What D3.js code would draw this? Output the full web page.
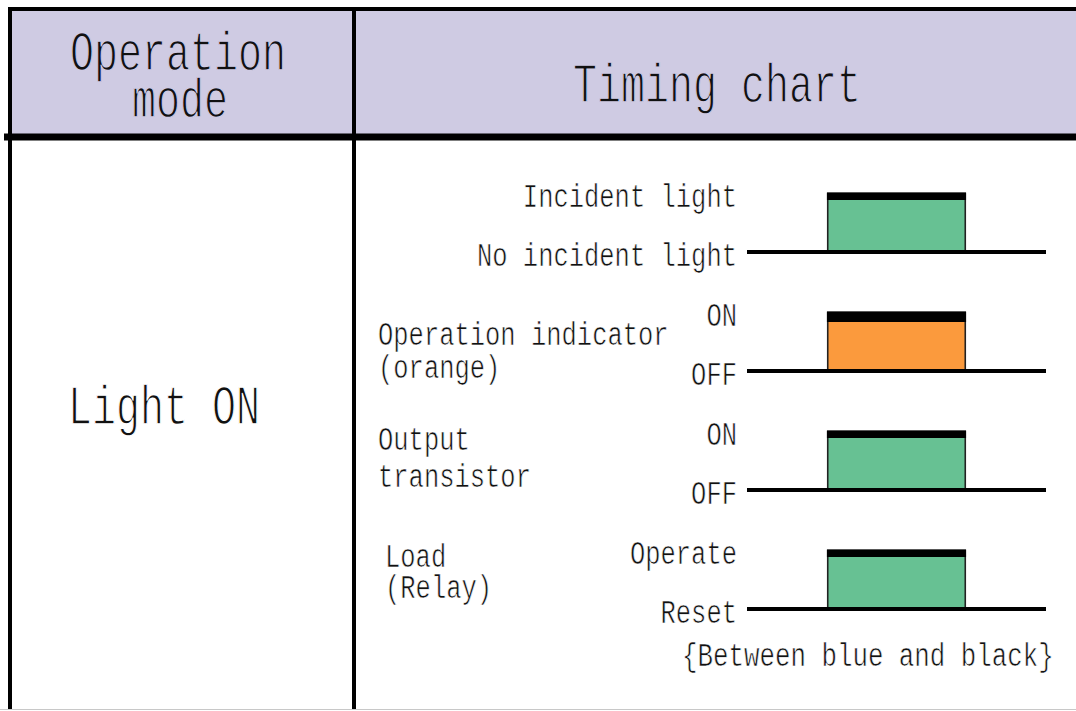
<!DOCTYPE html>
<html>
<head>
<meta charset="utf-8">
<script src="https://cdn.jsdelivr.net/npm/d3@7"></script>
<style>
  body { margin: 0; background: #fff; }
  text { font-family: "Liberation Mono", "DejaVu Sans Mono", monospace; fill: #111; }
</style>
</head>
<body>
<div id="chart"></div>
<script>
// header / mode texts
var headerLeft = ["Operation", "mode"];
var headerRight = ["Timing chart"];
var modeName = ["Light ON"];

// one row per signal
var rowKeys = ["light", "indicator", "transistor", "load"];
var highLabels = ["Incident light", "ON", "ON", "Operate"];
var lowLabels = ["No incident light", "OFF", "OFF", "Reset"];
var nameLines = [[], ["Operation indicator", "(orange)"], ["Output", "transistor"], ["Load", "(Relay)"]];
var pulseColors = ["#67c193", "#fb9a3d", "#67c193", "#67c193"];
var footNote = ["{Between blue and black}"];

// waveform: time -> level (step after)
var stepTimes = [0, 2.7, 7.3, 10];
var stepLevels = [0, 1, 0, 0];

var W = 1076, H = 711;
var headFill = "#cfcbe3";
// tall narrow glyphs: font sized by pitch, then stretched vertically
var bigStyle = { cw: 24, sy: 1.4, sw: 1.0 };
var smallStyle = { cw: 15.3, sy: 1.3, sw: 0.5 };

var svg = d3.select("#chart").append("svg")
    .attr("width", W)
    .attr("height", H);

// table frame
var colLeft = 10, colMid = 354, headTop = 9, headBottom = 137;

svg.append("rect")
    .attr("x", colLeft).attr("y", headTop)
    .attr("width", W - colLeft).attr("height", headBottom - headTop)
    .attr("fill", headFill);

svg.append("line") // bottom edge
    .attr("x1", 0).attr("x2", W).attr("y1", 709.5).attr("y2", 709.5)
    .attr("stroke", "#c8c8c8").attr("stroke-width", 1);

svg.append("line")
    .attr("x1", colLeft - 2).attr("x2", W).attr("y1", headTop).attr("y2", headTop)
    .attr("stroke", "#000").attr("stroke-width", 4);
svg.append("line")
    .attr("x1", colLeft).attr("x2", colLeft).attr("y1", headTop - 2).attr("y2", 709)
    .attr("stroke", "#000").attr("stroke-width", 4);
svg.append("line")
    .attr("x1", colMid).attr("x2", colMid).attr("y1", headTop - 2).attr("y2", 709)
    .attr("stroke", "#000").attr("stroke-width", 4);
svg.append("line")
    .attr("x1", 4).attr("x2", W).attr("y1", headBottom).attr("y2", headBottom)
    .attr("stroke", "#000").attr("stroke-width", 7);

// the background-coloured outline thins the glyphs a bit, like the thin pixel font
function addText(str, x, y, st, anchor, bg) {
  return svg.append("text")
      .attr("transform", "translate(" + x + "," + y + ") scale(1," + st.sy + ")")
      .attr("font-size", st.cw / 0.6)
      .attr("text-anchor", anchor || "start")
      .attr("stroke", bg || "#fff")
      .attr("stroke-width", st.sw)
      .text(str);
}

// header texts
addText(headerLeft[0], 178, 70, bigStyle, "middle", headFill);
addText(headerLeft[1], 180, 117, bigStyle, "middle", headFill);
addText(headerRight[0], 717, 102, bigStyle, "middle", headFill);
addText(modeName[0], 68, 424, bigStyle);

// scales
var x = d3.scaleLinear().domain([0, 10]).range([747, 1046]);
var rowY = d3.scalePoint().domain(rowKeys).range([252, 609]);
var pulseH = 59;
var barH = [7, 10, 7, 7];
// name line baselines, offsets from the row baseline
var nameOffsets = [[], [-26, 7], [-40, -3], [-42, -11]];
var nameX = [378, 378, 378, 385];

var pts = stepTimes.map(function(t, i) { return [t, stepLevels[i]]; });

rowKeys.forEach(function(key, i) {
  var base = rowY(key);
  var y = d3.scaleLinear().domain([0, 1]).range([base, base - pulseH]);

  var area = d3.area()
      .curve(d3.curveStepAfter)
      .x(function(d) { return x(d[0]); })
      .y0(base)
      .y1(function(d) { return y(d[1]); });
  svg.append("path")
      .attr("d", area(pts))
      .attr("fill", pulseColors[i]);

  var line = d3.line()
      .curve(d3.curveStepAfter)
      .x(function(d) { return x(d[0]); })
      .y(function(d) { return y(d[1]); });
  svg.append("path")
      .attr("d", line(pts))
      .attr("fill", "none")
      .attr("stroke", "#222")
      .attr("stroke-width", 1.6);

  // heavy top of the pulse
  var rise = stepTimes[stepLevels.indexOf(1)];
  var fall = stepTimes[stepLevels.indexOf(1) + 1];
  svg.append("rect")
      .attr("x", x(rise) - 0.8).attr("y", y(1))
      .attr("width", x(fall) - x(rise) + 1.6).attr("height", barH[i])
      .attr("fill", "#000");

  // base line
  svg.append("line")
      .attr("x1", x(0)).attr("x2", x(10))
      .attr("y1", base).attr("y2", base)
      .attr("stroke", "#000").attr("stroke-width", 4);

  addText(highLabels[i], 737, base - 45, smallStyle, "end");
  addText(lowLabels[i], 737, base + 14, smallStyle, "end");

  nameLines[i].forEach(function(s, j) {
    addText(s, nameX[i], base + nameOffsets[i][j], smallStyle);
  });
});

addText(footNote[0], 682, 666, { cw: 15.5, sy: 1.3, sw: 0.5 });
</script>
</body>
</html>
